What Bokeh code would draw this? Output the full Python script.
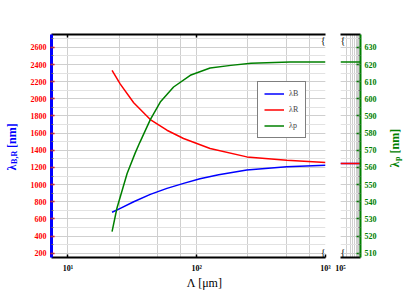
import math
from bokeh.plotting import figure
from bokeh.layouts import row, column
from bokeh.models import (Range1d, LogAxis, FixedTicker, Label, Legend, LegendItem,
                          CustomJSTickFormatter)
from bokeh.embed import file_html
from bokeh.resources import INLINE

# ---------------- data ----------------
lam_blue_x = [22.0, 25.5, 32.4, 43.6, 58.7, 79.0, 106, 148, 245, 500, 1000]
lam_blue = [677, 723, 800, 886, 956, 1014, 1069, 1115, 1171, 1207, 1227]

lam_red_x = [22.0, 25.5, 32.4, 43.6, 58.7, 79.0, 127, 245, 500, 1000]
lam_red = [2332, 2172, 1954, 1758, 1634, 1537, 1421, 1323, 1285, 1258]

lam_p_x = [22.0, 24.0, 28.8, 33.3, 36.1, 43.6, 52.1, 66.1, 89.1, 127, 184, 264, 531, 1000]
lam_p = [522.6, 536.2, 556.5, 568.5, 574.5, 587.9, 598.1, 606.9, 613.7, 618.0, 619.5, 620.8, 621.4, 621.5]

# asymptotic values shown in the broken-axis panel
lam_inf_x = [1e5, 1e6]
blue_inf = [1247, 1247]
red_inf = [1247, 1247]
p_inf = [621.5, 621.5]

left_ticks = list(range(200, 2601, 200))
left_minor = list(range(200, 2701, 100))
right_ticks = list(range(510, 631, 10))
right_minor = [505 + 5 * i for i in range(27)]
x_major = [10, 100, 1000]
x_minor = [25, 50, 75, 250, 500, 750]
x2_major = [1e5]
x2_minor = [2e5, 3e5, 4e5, 5e5, 6e5, 7e5, 8e5, 9e5]

legend_names = ["λB", "λR", "λp"]

SERIF = "Liberation Serif"
BLUE = "#0000ff"
RED = "#ff0000"
GREEN = "#008000"
GRID = "#cfcfcf"
GRID2 = "#e2e2e2"

sup_fmt = CustomJSTickFormatter(code="""
const s = {0:'\u2070',1:'\u00b9',2:'\u00b2',3:'\u00b3',4:'\u2074',5:'\u2075',6:'\u2076'};
return '10' + s[Math.round(Math.log10(tick))];
""")
empty_fmt = CustomJSTickFormatter(code="return '';")

TOP, FRAME_H, BOT = 34, 223, 18
H = TOP + FRAME_H + BOT
HALF_PI = math.pi / 2


def add_label(p, text, x, y, size, color, style="bold", angle=0.0, align="left",
              baseline="alphabetic"):
    p.add_layout(Label(x=x, y=y, x_units="screen", y_units="screen", text=text,
                       text_font=SERIF, text_font_size=size, text_font_style=style,
                       text_color=color, angle=angle, text_align=align,
                       text_baseline=baseline))


def text_fig(w, h):
    f = figure(width=w, height=h, x_range=Range1d(0, 1), y_range=Range1d(0, 1),
               x_axis_location=None, y_axis_location=None, output_backend="svg",
               toolbar_location=None, min_border=0, min_border_left=0, min_border_right=0,
               min_border_top=0, min_border_bottom=0)
    f.outline_line_color = None
    f.background_fill_color = "white"
    f.border_fill_color = "white"
    f.grid.visible = False
    return f


def style_x(ax, ticks, minor):
    ax.ticker = FixedTicker(ticks=ticks, minor_ticks=minor)
    ax.formatter = sup_fmt
    ax.axis_label = None
    ax.axis_line_color = "black"
    ax.axis_line_width = 2
    ax.major_tick_line_color = "black"
    ax.major_tick_line_width = 1.5
    ax.major_tick_in = 3
    ax.major_tick_out = 0
    ax.minor_tick_line_color = None
    ax.minor_tick_in = 0
    ax.minor_tick_out = 0
    ax.major_label_text_font = SERIF
    ax.major_label_text_font_style = "bold"
    ax.major_label_text_font_size = "8px"
    ax.major_label_text_color = "black"
    ax.major_label_standoff = 6


def style_y(ax, ticks, minor, line_color, line_w, tick_color, tick_in, tick_out, label_color):
    ax.ticker = FixedTicker(ticks=ticks, minor_ticks=minor)
    ax.axis_label = None
    ax.axis_line_color = line_color
    ax.axis_line_width = line_w
    ax.major_tick_line_color = tick_color
    ax.major_tick_line_width = 1.5
    ax.major_tick_in = tick_in
    ax.major_tick_out = tick_out
    ax.minor_tick_line_color = "#666666"
    ax.minor_tick_in = 2
    ax.minor_tick_out = 0
    ax.major_label_text_font = SERIF
    ax.major_label_text_font_style = "bold"
    ax.major_label_text_font_size = "8px"
    ax.major_label_text_color = label_color
    ax.major_label_standoff = 4


def top_axis(p, ticks):
    t = LogAxis(ticker=FixedTicker(ticks=ticks), formatter=empty_fmt)
    t.axis_line_color = "black"
    t.axis_line_width = 2
    t.major_tick_line_color = "black"
    t.major_tick_line_width = 1.5
    t.major_tick_in = 3
    t.major_tick_out = 0
    t.minor_tick_line_color = None
    t.minor_tick_out = 0
    t.major_label_text_font_size = "1px"
    p.add_layout(t, "above")


# ---------------- left title strip ----------------
lf = text_fig(24, H)
add_label(lf, "λ", 11, 87, "12px", BLUE, angle=HALF_PI)
add_label(lf, "B,R", 13.5, 93.6, "8px", BLUE, angle=HALF_PI)
add_label(lf, "[nm]", 11, 109.6, "12px", BLUE, angle=HALF_PI)

# ---------------- main panel ----------------
p1 = figure(width=309, height=H, x_axis_type="log",
            x_range=Range1d(7.45, 1000), y_range=Range1d(150, 2750),
            output_backend="svg", toolbar_location=None,
            min_border_left=27, min_border_right=8, min_border_top=TOP, min_border_bottom=BOT)
p1.outline_line_color = None
p1.background_fill_color = "white"
p1.border_fill_color = "white"
p1.extra_y_ranges = {"right": Range1d(507.5, 637.5)}

style_x(p1.xaxis[0], x_major, x_minor)
top_axis(p1, [10, 100])
style_y(p1.yaxis[0], left_ticks, left_minor, BLUE, 3, RED, 3, 1, RED)

p1.xgrid.grid_line_color = GRID
p1.xgrid.minor_grid_line_color = GRID
p1.ygrid.grid_line_color = GRID
p1.ygrid.minor_grid_line_color = GRID2

rb = p1.line(lam_blue_x, lam_blue, line_color=BLUE, line_width=1.5)
rr = p1.line(lam_red_x, lam_red, line_color=RED, line_width=1.5)
rp = p1.line(lam_p_x, lam_p, line_color=GREEN, line_width=1.5, y_range_name="right")

legend = Legend(items=[LegendItem(label=legend_names[0], renderers=[rb]),
                       LegendItem(label=legend_names[1], renderers=[rr]),
                       LegendItem(label=legend_names[2], renderers=[rp])],
                location=(206, 119))
legend.border_line_color = "black"
legend.border_line_width = 1.5
legend.background_fill_color = "white"
legend.background_fill_alpha = 1
legend.label_text_font = SERIF
legend.label_text_font_size = "8px"
legend.glyph_width = 20
legend.glyph_height = 11
legend.label_height = 11
legend.label_width = 10
legend.label_standoff = 5
legend.padding = 6
legend.spacing = 5
legend.margin = 0
p1.add_layout(legend)

# broken-axis marks
add_label(p1, "{", 274, 223, "10px", "black", style="normal", align="right", baseline="top")
add_label(p1, "{", 274, 0, "10px", "black", style="normal", align="right", baseline="bottom")

# ---------------- broken-axis panel ----------------
p2 = figure(width=52, height=H, x_axis_type="log",
            x_range=Range1d(1e5, 1e6), y_range=Range1d(507.5, 637.5),
            y_axis_location="right",
            output_backend="svg", toolbar_location=None,
            min_border_left=7, min_border_right=25, min_border_top=TOP, min_border_bottom=BOT)
p2.outline_line_color = None
p2.background_fill_color = "white"
p2.border_fill_color = "white"
p2.extra_y_ranges = {"left": Range1d(150, 2750)}

style_x(p2.xaxis[0], x2_major, x2_minor)
p2.xaxis[0].major_tick_line_color = None
top_axis(p2, [])
style_y(p2.yaxis[0], right_ticks, right_minor, GREEN, 2, GREEN, 4, 0, GREEN)

p2.xgrid.grid_line_color = GRID
p2.xgrid.minor_grid_line_color = GRID
p2.ygrid.grid_line_color = GRID
p2.ygrid.minor_grid_line_color = GRID2

p2.line(lam_inf_x, blue_inf, line_color=BLUE, line_width=1.5, y_range_name="left")
p2.line(lam_inf_x, red_inf, line_color=RED, line_width=1.5, y_range_name="left")
p2.line(lam_inf_x, p_inf, line_color=GREEN, line_width=1.5)

add_label(p2, "{", 0, 223, "10px", "black", style="normal", align="left", baseline="top")
add_label(p2, "{", 0, 0, "10px", "black", style="normal", align="left", baseline="bottom")

# ---------------- right title strip ----------------
rf = text_fig(21, H)
add_label(rf, "λ", 9.5, 90, "12px", GREEN, angle=HALF_PI)
add_label(rf, "p", 12, 96.6, "8px", GREEN, angle=HALF_PI)
add_label(rf, "[nm]", 9.5, 104, "12px", GREEN, angle=HALF_PI)

# ---------------- bottom title strip ----------------
bf = text_fig(406, 21)
add_label(bf, "Λ [μm]", 204, 14, "12px", "black", style="normal", align="center", baseline="middle")

layout = column(row(lf, p1, p2, rf), bf)
open("out.html", "w").write(file_html(layout, INLINE))
